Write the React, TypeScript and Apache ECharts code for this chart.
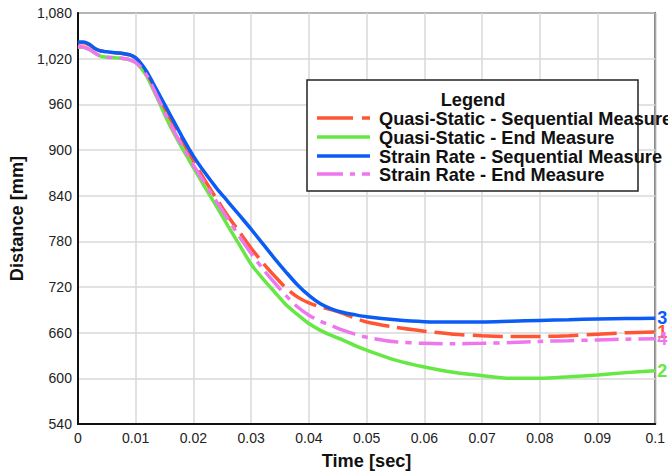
import React, { useEffect, useRef } from "react";
import * as echarts from "echarts";

const timeSec = [0, 0.001, 0.002, 0.003, 0.004, 0.005, 0.006, 0.007, 0.008, 0.009, 0.010, 0.011, 0.012, 0.013, 0.014, 0.015, 0.016, 0.018, 0.020, 0.022, 0.024, 0.026, 0.028, 0.030, 0.032, 0.034, 0.036, 0.038, 0.040, 0.042, 0.044, 0.046, 0.048, 0.050, 0.055, 0.060, 0.065, 0.070, 0.075, 0.080, 0.085, 0.090, 0.095, 0.100];

const quasiSequential = [1041, 1041, 1038, 1033, 1030, 1029, 1028, 1027.5, 1026.5, 1025, 1021, 1012, 1000, 986, 971, 956, 941, 913, 886, 860, 836, 813, 792, 771, 752, 735, 719, 707, 699, 694, 690, 685, 679, 674, 667, 662, 658, 656, 655, 655, 656, 658, 660, 661];

const quasiEnd = [1035, 1035, 1032, 1027, 1023, 1022, 1021.5, 1021, 1020, 1018.5, 1015, 1007, 996, 980, 964, 947, 931, 903, 877, 851, 826, 800, 775, 750, 731, 714, 697, 684, 672, 663, 656, 650, 643, 637, 624, 615, 608, 603.5, 600, 600, 602, 604.5, 607.5, 610];

const strainSequential = [1042, 1042, 1039, 1033, 1030, 1029, 1028, 1027.5, 1026.5, 1025, 1021, 1013, 1002, 988, 974, 960, 946, 918, 892, 870, 850, 832, 814, 796, 777, 758, 740, 723, 709, 698, 691, 686.5, 683.5, 681, 677, 674.5, 674, 674, 675, 676, 677, 678, 678.5, 679];

const strainEnd = [1036, 1035, 1032, 1027, 1023, 1022, 1021.5, 1021, 1020, 1018.5, 1015, 1008, 997, 982, 966, 950, 934, 906, 880, 856, 832, 809, 786, 764, 744, 726, 709, 694, 683, 675, 669, 663, 658, 654, 648, 646, 645.5, 646, 647, 648.5, 649.5, 650.5, 651.5, 652];

const seriesNames = [
  "Quasi-Static - Sequential Measure",
  "Quasi-Static - End Measure",
  "Strain Rate - Sequential Measure",
  "Strain Rate - End Measure",
];
const endTags = ["1", "2", "3", "4"];
const colors = ["#ff5533", "#66e844", "#0a5cf5", "#ee77ee"];
const dashes: any[] = [[30, 8], "solid", "solid", [24, 7, 6, 7]];
const legendDashes: any[] = [[36, 9], null, null, [26, 7, 5, 7]];

const yTicks = { min: 540, max: 1080, interval: 60 };
const xTicks = { min: 0, max: 0.1, interval: 0.01 };

const FONT = "'Liberation Sans', Arial, sans-serif";
const BIG = 18.2;

export default function App() {
  const ref = useRef<HTMLDivElement>(null);
  useEffect(() => {
    if (!ref.current) return;
    const chart = echarts.init(ref.current, undefined, { renderer: "svg" });
    const allValues = [quasiSequential, quasiEnd, strainSequential, strainEnd];
    const series = allValues.map((vals, i) => ({
      name: seriesNames[i],
      type: "line",
      data: timeSec.map((t, j) => [t, vals[j]]),
      smooth: 0.3,
      showSymbol: false,
      z: i === 2 ? 3 : i === 3 ? 4 : i === 0 ? 2 : 1,
      lineStyle: { color: colors[i], width: 3.5, type: dashes[i], cap: "butt" },
      itemStyle: { color: colors[i] },
      endLabel: {
        show: true,
        formatter: endTags[i],
        color: colors[i],
        fontWeight: "bold",
        fontSize: 18,
        fontFamily: FONT,
        distance: 2,
      },
    }));

    const rows = [118, 137, 156, 174];
    const Z = 100;
    const legendChildren: any[] = [
      {
        type: "rect",
        z: Z,
        shape: { x: 307, y: 80, width: 331, height: 111 },
        style: { fill: "#fff", stroke: "#222", lineWidth: 1.5 },
      },
      {
        type: "text",
        z: Z + 1,
        x: 473,
        y: 100,
        style: {
          text: "Legend",
          fontSize: BIG,
          fontWeight: "bold",
          fontFamily: FONT,
          fill: "#111",
          align: "center",
          verticalAlign: "middle",
        },
      },
    ];
    rows.forEach((ry, i) => {
      legendChildren.push({
        type: "line",
        z: Z + 1,
        shape: { x1: 317, y1: ry, x2: 370, y2: ry },
        style: {
          stroke: colors[i],
          lineWidth: 3.5,
          lineDash: legendDashes[i] || undefined,
        },
      });
      legendChildren.push({
        type: "text",
        z: Z + 1,
        x: 379,
        y: ry + 1,
        style: {
          text: seriesNames[i],
          fontSize: BIG,
          fontWeight: "bold",
          fontFamily: FONT,
          fill: "#111",
          align: "left",
          verticalAlign: "middle",
        },
      });
    });

    chart.setOption({
      animation: false,
      backgroundColor: "#fff",
      textStyle: { fontFamily: FONT },
      grid: {
        left: 73,
        right: 12,
        top: 13,
        bottom: 48,
        show: true,
        borderColor: "#111",
        borderWidth: 1.5,
        backgroundColor: "transparent",
      },
      xAxis: {
        type: "value",
        min: xTicks.min,
        max: xTicks.max,
        interval: xTicks.interval,
        name: "Time [sec]",
        nameLocation: "middle",
        nameGap: 28,
        nameTextStyle: { fontSize: BIG, fontWeight: "bold", color: "#111", fontFamily: FONT },
        axisLine: { show: true, lineStyle: { color: "#111", width: 2 } },
        axisTick: { show: false },
        axisLabel: {
          color: "#222",
          fontSize: 14,
          margin: 7,
          fontFamily: FONT,
          formatter: (v: number) => String(parseFloat(v.toFixed(3))),
        },
        splitLine: { show: true, lineStyle: { color: "#d9d9d9", width: 1.5 } },
      },
      yAxis: {
        type: "value",
        min: yTicks.min,
        max: yTicks.max,
        interval: yTicks.interval,
        name: "Distance [mm]",
        nameLocation: "middle",
        nameGap: 43,
        nameTextStyle: { fontSize: BIG, fontWeight: "bold", color: "#111", fontFamily: FONT },
        axisLine: { show: true, lineStyle: { color: "#111", width: 2 } },
        axisTick: { show: false },
        axisLabel: {
          color: "#222",
          fontSize: 14,
          margin: 6,
          fontFamily: FONT,
          formatter: (v: number) => v.toLocaleString("en-US"),
        },
        splitLine: { show: true, lineStyle: { color: "#d9d9d9", width: 1.5 } },
      },
      series,
      graphic: legendChildren,
    });
    return () => chart.dispose();
  }, []);
  return (
    <div
      ref={ref}
      style={{ position: "absolute", left: 0, top: 0, width: 668, height: 475 }}
    />
  );
}
